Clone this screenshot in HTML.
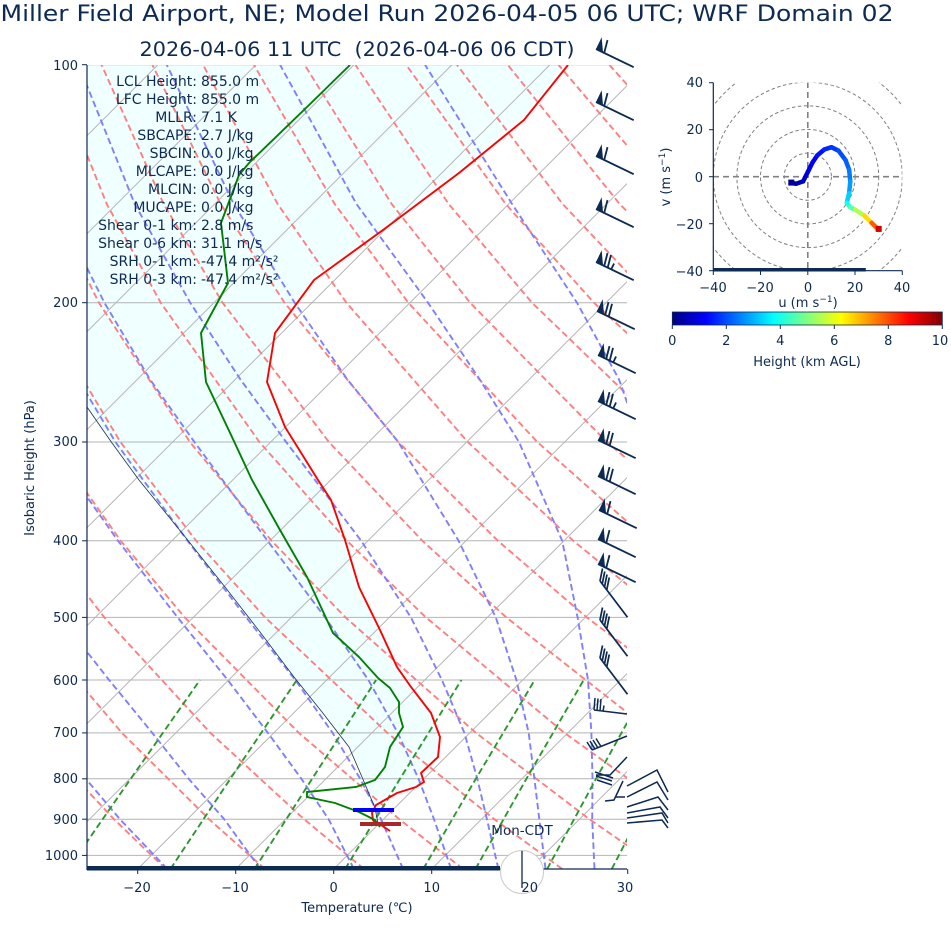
<!DOCTYPE html>
<html><head><meta charset="utf-8"><style>
body{margin:0;background:#fff}
svg{display:block;font-family:"DejaVu Sans","Liberation Sans",sans-serif}
text{fill:#0d2a52}
</style></head><body>
<svg width="951" height="936" viewBox="0 0 951 936" xmlns="http://www.w3.org/2000/svg" xmlns:xlink="http://www.w3.org/1999/xlink">
<defs>
<clipPath id="ax"><rect x="87" y="65" width="540" height="804"/></clipPath>
<clipPath id="hx"><rect x="713.3" y="82.7" width="189" height="188"/></clipPath>
<linearGradient id="jet" x1="0" x2="1" y1="0" y2="0">
<stop offset="0" stop-color="#000080"/><stop offset="0.125" stop-color="#0000ff"/><stop offset="0.375" stop-color="#00ffff"/><stop offset="0.625" stop-color="#ffff00"/><stop offset="0.875" stop-color="#ff0000"/><stop offset="1" stop-color="#800000"/>
</linearGradient>
<g id="bA"><path d="M0,0L29,14M6.3,3.05L8.85,-6.8" stroke="#0d2a52" stroke-width="1.4" fill="none"/><path d="M0,0L4.35,-9L5.4,2.6Z" fill="#0d2a52"/></g>
<g id="bB"><path d="M0,0L29,14M6.3,3.05L8.85,-6.8M9,4.35L11.55,-5.5" stroke="#0d2a52" stroke-width="1.4" fill="none"/><path d="M0,0L4.35,-9L5.4,2.6Z" fill="#0d2a52"/></g>
<g id="bC"><path d="M0,0L29,14M6.3,3.05L8.85,-6.8M9,4.35L11.55,-5.5M11.7,5.65L13.9,1.15" stroke="#0d2a52" stroke-width="1.4" fill="none"/><path d="M0,0L4.35,-9L5.4,2.6Z" fill="#0d2a52"/></g>
<g id="bD"><path d="M0,0L22,29M0,0l2,-10M1.8,2.4l2,-10M3.6,4.8l2,-10M5.4,7.2l2,-10" stroke="#0d2a52" stroke-width="1.4" fill="none"/></g>
</defs>
<g clip-path="url(#ax)">
<path d="M568,65L524,120L459,173L383,230L314,280L275,333L267,382L285,427L318,480L331,500L345,540L359,587L380,630L397,667L411,687L431,713L440,737L438,757L421,773L424,782L416,787L397,793L376,805L372,813L373,820L378,823L375,808L362,777L349,747L322,712L294,677L260,632L225,587L182,533L139,480L112,443L87,407L87,65Z" fill="#f0ffff"/>
<g stroke="#b4b4b4" stroke-width="1">
<line x1="-646.3" y1="869" x2="157.7" y2="65"/><line x1="-548.3" y1="869" x2="255.7" y2="65"/><line x1="-450.3" y1="869" x2="353.7" y2="65"/><line x1="-352.3" y1="869" x2="451.7" y2="65"/><line x1="-254.3" y1="869" x2="549.7" y2="65"/><line x1="-156.3" y1="869" x2="647.7" y2="65"/><line x1="-58.3" y1="869" x2="745.7" y2="65"/><line x1="39.7" y1="869" x2="843.7" y2="65"/><line x1="137.7" y1="869" x2="941.7" y2="65"/><line x1="235.7" y1="869" x2="1039.7" y2="65"/><line x1="333.7" y1="869" x2="1137.7" y2="65"/><line x1="431.7" y1="869" x2="1235.7" y2="65"/><line x1="529.7" y1="869" x2="1333.7" y2="65"/>
<line x1="87" x2="627" y1="64.7" y2="64.7"/><line x1="87" x2="627" y1="302.7" y2="302.7"/><line x1="87" x2="627" y1="442" y2="442"/><line x1="87" x2="627" y1="540.8" y2="540.8"/><line x1="87" x2="627" y1="617.4" y2="617.4"/><line x1="87" x2="627" y1="680" y2="680"/><line x1="87" x2="627" y1="732.9" y2="732.9"/><line x1="87" x2="627" y1="778.8" y2="778.8"/><line x1="87" x2="627" y1="819.2" y2="819.2"/><line x1="87" x2="627" y1="855.4" y2="855.4"/>
</g>
<g fill="none" stroke="#ff7f7f" stroke-width="1.9" stroke-dasharray="6.5,3.5">
<path d="M66.6,868.9L18.8,819.2L-55.1,732.9"/>
<path d="M165.7,868.9L113.9,819.2L33.4,732.9L-56.4,617.4"/>
<path d="M264.8,868.9L209,819.2L121.9,732.9L23.9,617.4L-30.1,540.8"/>
<path d="M363.9,868.9L304.1,819.2L210.4,732.9L104.3,617.4L45.3,540.8L-18.5,442"/>
<path d="M463,868.9L399.2,819.2L298.9,732.9L184.7,617.4L120.7,540.8L51,442L-24.9,302.7"/>
<path d="M562.1,868.9L494.3,819.2L387.4,732.9L265.1,617.4L196.2,540.8L120.4,442L37,302.7"/>
<path d="M661.2,868.9L589.4,819.2L476,732.9L345.5,617.4L271.6,540.8L189.9,442L98.9,302.7L49.7,203.9"/>
<path d="M760.4,868.9L684.5,819.2L564.5,732.9L425.9,617.4L347,540.8L259.4,442L160.7,302.7L106.7,203.9L50.7,64.7"/>
<path d="M779.6,819.2L653,732.9L506.3,617.4L422.4,540.8L328.9,442L222.6,302.7L163.6,203.9L101.5,64.7"/>
<path d="M741.5,732.9L586.7,617.4L497.9,540.8L398.3,442L284.5,302.7L220.6,203.9L152.3,64.7"/>
<path d="M667.1,617.4L573.3,540.8L467.8,442L346.4,302.7L277.6,203.9L203,64.7"/>
<path d="M648.7,540.8L537.3,442L408.3,302.7L334.6,203.9L253.8,64.7"/>
<path d="M724.1,540.8L606.8,442L470.1,302.7L391.6,203.9L304.5,64.7"/>
<path d="M799.6,540.8L676.3,442L532,302.7L448.6,203.9L355.3,64.7"/>
<path d="M745.7,442L593.9,302.7L505.6,203.9L406.1,64.7"/>
<path d="M815.2,442L655.8,302.7L562.6,203.9L456.8,64.7"/>
<path d="M717.6,302.7L619.6,203.9L507.6,64.7"/>
<path d="M779.5,302.7L676.6,203.9L558.4,64.7"/>
<path d="M733.6,203.9L609.2,64.7"/>
<path d="M790.6,203.9L659.9,64.7"/>
</g>
<g fill="none" stroke="#7f7fff" stroke-width="1.9" stroke-dasharray="6.5,3.5">
<path d="M641.5,868.9L643.2,819.2L647.6,778.8L653,732.9L656,680L659,617.4L656,540.8L641,442L619,379.4L577,302.7L512,203.9L425,64.7"/>
<path d="M594.5,868.9L592.2,819.2L592.5,778.8L591.4,732.9L588,680L577.6,617.4L562.2,540.8L519,442L479.7,379.4L428,302.7L356.4,203.9L280,64.7"/>
<path d="M545.5,868.9L539.3,819.2L534.4,778.8L528.7,732.9L516.4,680L495.8,617.4L458.6,540.8L398.3,442L347.3,379.4L294.7,302.7L233.7,203.9L166.7,64.7"/>
<path d="M498.4,868.9L486.9,819.2L477.3,778.8L464.4,732.9L441.9,680L410.9,617.4L361.2,540.8L286.1,442L240.4,379.4L190.2,302.7L134.7,203.9L78.5,64.7"/>
<path d="M451.1,868.9L434,819.2L418.5,778.8L397.8,732.9L368.4,680L325.1,617.4L267.6,540.8L194.4,442L150,379.4L104.4,302.7L55,203.9L6.7,64.7"/>
<path d="M403.1,868.9L381,819.2L360.2,778.8L332.6,732.9L295.3,680L246.2,617.4L187.6,540.8L115.4,442L33,302.7"/>
<path d="M353.8,868.9L328.6,819.2L301.4,778.8L267.9,732.9L227.7,680L177.6,617.4L118,540.8L48.2,442L-27,302.7"/>
<path d="M260.3,868.9L224.2,819.2L188.7,778.8L152.3,732.9L109.1,680L60,617.4L3.3,540.8"/>
<path d="M167.2,868.9L119.9,819.2L85.8,778.8L50.4,732.9L6.2,680"/>
<path d="M74.1,868.9L25.8,819.2L-10,778.8"/>
</g>
<g fill="none" stroke="#2e962e" stroke-width="1.9" stroke-dasharray="6.5,3.5">
<path d="M68.2,868.9L130.7,778.8L200,680"/>
<path d="M170.5,868.9L230.3,778.8L296.8,680"/>
<path d="M254.6,868.9L312.1,778.8L376.1,680"/>
<path d="M345.2,868.9L400,778.8L461.4,680"/>
<path d="M423.3,868.9L475.8,778.8L534.7,680"/>
<path d="M475.5,868.9L526.4,778.8L583.7,680"/>
<path d="M547.2,868.9L596,778.8L650.9,680"/>
<path d="M611.8,868.9L658.5,778.8"/>
</g>
<path d="M378,823L375,808L362,777L349,747L322,712L294,677L260,632L225,587L182,533L139,480L112,443L87,407L60,370" fill="none" stroke="#1a3350" stroke-width="0.8"/>
<path d="M568,65L524,120L459,173L383,230L314,280L275,333L267,382L285,427L318,480L331,500L345,540L359,587L380,630L397,667L411,687L431,713L440,737L438,757L421,773L424,782L416,787L397,793L376,805L372,813L373,820L378,823L390,831" fill="none" stroke="#ff0000" stroke-width="1.9"/>
<path d="M350,65L307,107L249,163L239,175L221,223L228,283L201,333L206,382L232,437L252,480L280,530L307,577L333,633L359,657L378,678L390,688L399,702L399,713L403,727L390,747L385,767L375,780L356,787L307,792L307,797L335,803L359,812L375,820L380,827" fill="none" stroke="#008000" stroke-width="1.9"/>
</g>
<line x1="353" x2="394" y1="810" y2="810" stroke="#0000ff" stroke-width="4"/>
<line x1="360" x2="401" y1="824" y2="824" stroke="#a52a2a" stroke-width="4"/>
<line x1="87" x2="87" y1="65" y2="870" stroke="#0d2a52" stroke-width="1.2"/>
<line x1="87" x2="627" y1="869" y2="869" stroke="#0d2a52" stroke-width="1.2"/>
<rect x="87" y="866" width="413" height="4.5" fill="#0d2a52"/>
<g stroke="#0d2a52" stroke-width="1">
<line x1="137.7" x2="137.7" y1="869" y2="874"/><line x1="235.7" x2="235.7" y1="869" y2="874"/><line x1="333.7" x2="333.7" y1="869" y2="874"/><line x1="431.7" x2="431.7" y1="869" y2="874"/><line x1="529.7" x2="529.7" y1="869" y2="874"/><line x1="627.7" x2="627.7" y1="869" y2="874"/>
<line x1="82" x2="87" y1="64.7" y2="64.7"/><line x1="82" x2="87" y1="302.7" y2="302.7"/><line x1="82" x2="87" y1="442" y2="442"/><line x1="82" x2="87" y1="540.8" y2="540.8"/><line x1="82" x2="87" y1="617.4" y2="617.4"/><line x1="82" x2="87" y1="680" y2="680"/><line x1="82" x2="87" y1="732.9" y2="732.9"/><line x1="82" x2="87" y1="778.8" y2="778.8"/><line x1="82" x2="87" y1="819.2" y2="819.2"/><line x1="82" x2="87" y1="855.4" y2="855.4"/>
</g>
<circle cx="522" cy="872" r="21.5" fill="#fff" stroke="#c8c8c8" stroke-width="1"/>
<line x1="522" x2="522" y1="851" y2="888" stroke="#0d2a52" stroke-width="1.3"/>
<!-- barbs -->
<use xlink:href="#bA" href="#bA" transform="translate(596,49) scale(1.3)"/>
<use xlink:href="#bA" href="#bA" transform="translate(596,102) scale(1.3)"/>
<use xlink:href="#bA" href="#bA" transform="translate(596,156) scale(1.3)"/>
<use xlink:href="#bA" href="#bA" transform="translate(596,209) scale(1.3)"/>
<use xlink:href="#bC" href="#bC" transform="translate(596,262) scale(1.3)"/>
<use xlink:href="#bB" href="#bB" transform="translate(597,311) scale(1.3)"/>
<use xlink:href="#bC" href="#bC" transform="translate(598,355) scale(1.3)"/>
<use xlink:href="#bC" href="#bC" transform="translate(598,401) scale(1.3)"/>
<use xlink:href="#bB" href="#bB" transform="translate(598,440) scale(1.3)"/>
<use xlink:href="#bB" href="#bB" transform="translate(598,476) scale(1.3)"/>
<use xlink:href="#bA" href="#bA" transform="translate(599,510) scale(1.3)"/>
<use xlink:href="#bA" href="#bA" transform="translate(598,539) scale(1.3)"/>
<use xlink:href="#bA" href="#bA" transform="translate(598,564) scale(1.3)"/>
<use xlink:href="#bD" href="#bD" transform="translate(600,581) scale(1.25)"/>
<use xlink:href="#bD" href="#bD" transform="translate(600,620) scale(1.25)"/>
<use xlink:href="#bD" href="#bD" transform="translate(600,658) scale(1.25)"/>
<g fill="none" stroke="#0d2a52" stroke-width="1.5">
<path d="M594,710L627,714M594,710l1,-12M597,710.5l1,-12M600,711l1,-12M603,711.5l1,-6"/>
<path d="M592,750L627,736M592,750l-5,-8M595,749l-5,-8M598,748l-5,-8M601,746.5l-5,-8"/>
<path d="M627,757L610,775L596,775M595,772L613,778M596,776L612,781M597,780L612,785"/>
<path d="M623,781L614,800L605,801M615,797L625,797"/>
<path d="M627,786L657,770L668,792M627,797L657,782L668,800M627,807L658,797L668,810M627,813L660,807L668,818M627,818L662,813L668,823M627,823L662,820L668,828"/>
</g>
<!-- titles -->
<text x="447" y="21" font-size="22" text-anchor="middle" textLength="893" lengthAdjust="spacingAndGlyphs">Miller Field Airport, NE; Model Run 2026-04-05 06 UTC; WRF Domain 02</text>
<text x="357" y="56" font-size="19.5" text-anchor="middle" textLength="435" lengthAdjust="spacingAndGlyphs" xml:space="preserve">2026-04-06 11 UTC  (2026-04-06 06 CDT)</text>
<g font-size="14">
<text x="197" y="86" text-anchor="end">LCL Height:</text><text x="201" y="86">855.0 m</text>
<text x="197" y="104" text-anchor="end">LFC Height:</text><text x="201" y="104">855.0 m</text>
<text x="197" y="122" text-anchor="end">MLLR:</text><text x="201" y="122">7.1 K</text>
<text x="197" y="140" text-anchor="end">SBCAPE:</text><text x="201" y="140">2.7 J/kg</text>
<text x="197" y="158" text-anchor="end">SBCIN:</text><text x="201" y="158">0.0 J/kg</text>
<text x="197" y="176" text-anchor="end">MLCAPE:</text><text x="201" y="176">0.0 J/kg</text>
<text x="197" y="194" text-anchor="end">MLCIN:</text><text x="201" y="194">0.0 J/kg</text>
<text x="197" y="212" text-anchor="end">MUCAPE:</text><text x="201" y="212">0.0 J/kg</text>
<text x="197" y="230" text-anchor="end">Shear 0-1 km:</text><text x="201" y="230">2.8 m/s</text>
<text x="197" y="248" text-anchor="end">Shear 0-6 km:</text><text x="201" y="248">31.1 m/s</text>
<text x="197" y="266" text-anchor="end">SRH 0-1 km:</text><text x="201" y="266">-47.4 m²/s²</text>
<text x="197" y="284" text-anchor="end">SRH 0-3 km:</text><text x="201" y="284">-47.4 m²/s²</text>
</g>
<g font-size="13" text-anchor="end">
<text x="78" y="70">100</text><text x="78" y="307">200</text><text x="78" y="446">300</text><text x="78" y="545">400</text><text x="78" y="622">500</text><text x="78" y="685">600</text><text x="78" y="737">700</text><text x="78" y="783">800</text><text x="78" y="824">900</text><text x="78" y="860">1000</text>
</g>
<text transform="translate(34,468) rotate(-90)" font-size="13" text-anchor="middle">Isobaric Height (hPa)</text>
<g font-size="13" text-anchor="middle">
<text x="137" y="892">−20</text><text x="235" y="892">−10</text><text x="333.7" y="892">0</text><text x="431.7" y="892">10</text><text x="529.7" y="892">20</text><text x="625" y="892">30</text>
</g>
<text x="357" y="912" font-size="13" text-anchor="middle">Temperature (℃)</text>
<text x="522" y="835" font-size="13.5" text-anchor="middle">Mon-CDT</text>
<!-- hodograph -->
<g clip-path="url(#hx)">
<g fill="none" stroke="#808080" stroke-width="1" stroke-dasharray="3.5,2.5">
<circle cx="807.8" cy="176.7" r="23.6"/><circle cx="807.8" cy="176.7" r="47.3"/><circle cx="807.8" cy="176.7" r="70.9"/><circle cx="807.8" cy="176.7" r="94.5"/><circle cx="807.8" cy="176.7" r="118.1"/><circle cx="807.8" cy="176.7" r="141.8"/>
</g>
<g stroke="#808080" stroke-width="1.6" stroke-dasharray="6,4">
<line x1="713" x2="903" y1="176.7" y2="176.7"/><line x1="807.8" x2="807.8" y1="82" y2="271"/>
</g>
<g stroke-width="4.5" stroke-linecap="round">
<line x1="791.3" y1="182.6" x2="796" y2="183.8" stroke="#00008f"/>
<line x1="796" y1="183.8" x2="803.1" y2="181.4" stroke="#0000ae"/>
<line x1="803.1" y1="181.4" x2="807.8" y2="172" stroke="#0000cc"/>
<line x1="807.8" y1="172" x2="812.5" y2="162.5" stroke="#0000e6"/>
<line x1="812.5" y1="162.5" x2="817.3" y2="155.4" stroke="#0000fa"/>
<line x1="817.3" y1="155.4" x2="824.3" y2="149.5" stroke="#000fff"/>
<line x1="824.3" y1="149.5" x2="831.4" y2="147.2" stroke="#0024ff"/>
<line x1="831.4" y1="147.2" x2="838.5" y2="150.7" stroke="#0038ff"/>
<line x1="838.5" y1="150.7" x2="845.6" y2="160.2" stroke="#004dff"/>
<line x1="845.6" y1="160.2" x2="849.1" y2="169.6" stroke="#0061ff"/>
<line x1="849.1" y1="169.6" x2="850.3" y2="181.4" stroke="#007aff"/>
<line x1="850.3" y1="181.4" x2="849.1" y2="193.2" stroke="#009eff"/>
<line x1="849.1" y1="193.2" x2="846.8" y2="202.7" stroke="#00d1ff"/>
<line x1="846.8" y1="202.7" x2="850.3" y2="207.4" stroke="#14ffeb"/>
<line x1="850.3" y1="207.4" x2="855.1" y2="209.8" stroke="#5cffa3"/>
<line x1="855.1" y1="209.8" x2="864.5" y2="215.7" stroke="#b2ff4d"/>
<line x1="864.5" y1="215.7" x2="871.6" y2="222.8" stroke="#ffdb00"/>
<line x1="871.6" y1="222.8" x2="878.7" y2="229.9" stroke="#ff5c00"/>
</g>
<rect x="788.3" y="179.6" width="6" height="6" fill="#000090"/>
<rect x="875.7" y="225.9" width="6" height="6" fill="#d00000"/>
</g>
<line x1="713.3" x2="713.3" y1="82.7" y2="271" stroke="#0d2a52" stroke-width="1.2"/>
<line x1="713.3" x2="902.3" y1="270.7" y2="270.7" stroke="#0d2a52" stroke-width="1.2"/>
<rect x="713.3" y="268" width="152.5" height="3.5" fill="#0d2a52"/>
<g stroke="#0d2a52" stroke-width="1">
<line x1="709" x2="713.3" y1="82.7" y2="82.7"/><line x1="709" x2="713.3" y1="129.7" y2="129.7"/><line x1="709" x2="713.3" y1="176.7" y2="176.7"/><line x1="709" x2="713.3" y1="223.7" y2="223.7"/><line x1="709" x2="713.3" y1="270.7" y2="270.7"/>
<line x1="713.3" x2="713.3" y1="270.7" y2="275"/><line x1="760.5" x2="760.5" y1="270.7" y2="275"/><line x1="807.8" x2="807.8" y1="270.7" y2="275"/><line x1="855" x2="855" y1="270.7" y2="275"/><line x1="902.3" x2="902.3" y1="270.7" y2="275"/>
<line x1="672.3" x2="672.3" y1="325" y2="329"/><line x1="726.3" x2="726.3" y1="325" y2="329"/><line x1="780.3" x2="780.3" y1="325" y2="329"/><line x1="834.3" x2="834.3" y1="325" y2="329"/><line x1="888.3" x2="888.3" y1="325" y2="329"/><line x1="942.3" x2="942.3" y1="325" y2="329"/>
</g>
<g font-size="13" text-anchor="end">
<text x="703" y="87">40</text><text x="703" y="134">20</text><text x="703" y="182">0</text><text x="703" y="229">−20</text><text x="703" y="276">−40</text>
</g>
<g font-size="13" text-anchor="middle">
<text x="713" y="292">−40</text><text x="760" y="292">−20</text><text x="808" y="292">0</text><text x="855" y="292">20</text><text x="902" y="292">40</text>
</g>
<text x="808" y="307" font-size="13" text-anchor="middle">u (m s<tspan baseline-shift="super" font-size="9">−1</tspan>)</text>
<text transform="translate(670,177) rotate(-90)" font-size="13" text-anchor="middle">v (m s<tspan baseline-shift="super" font-size="9">−1</tspan>)</text>
<rect x="672.3" y="312" width="270" height="13" fill="url(#jet)" stroke="#0d2a52" stroke-width="0.8"/>
<g font-size="13" text-anchor="middle">
<text x="672.3" y="345">0</text><text x="726.3" y="345">2</text><text x="780.3" y="345">4</text><text x="834.3" y="345">6</text><text x="888.3" y="345">8</text><text x="940" y="345">10</text>
</g>
<text x="807" y="366" font-size="13" text-anchor="middle">Height (km AGL)</text>
</svg>
</body></html>
